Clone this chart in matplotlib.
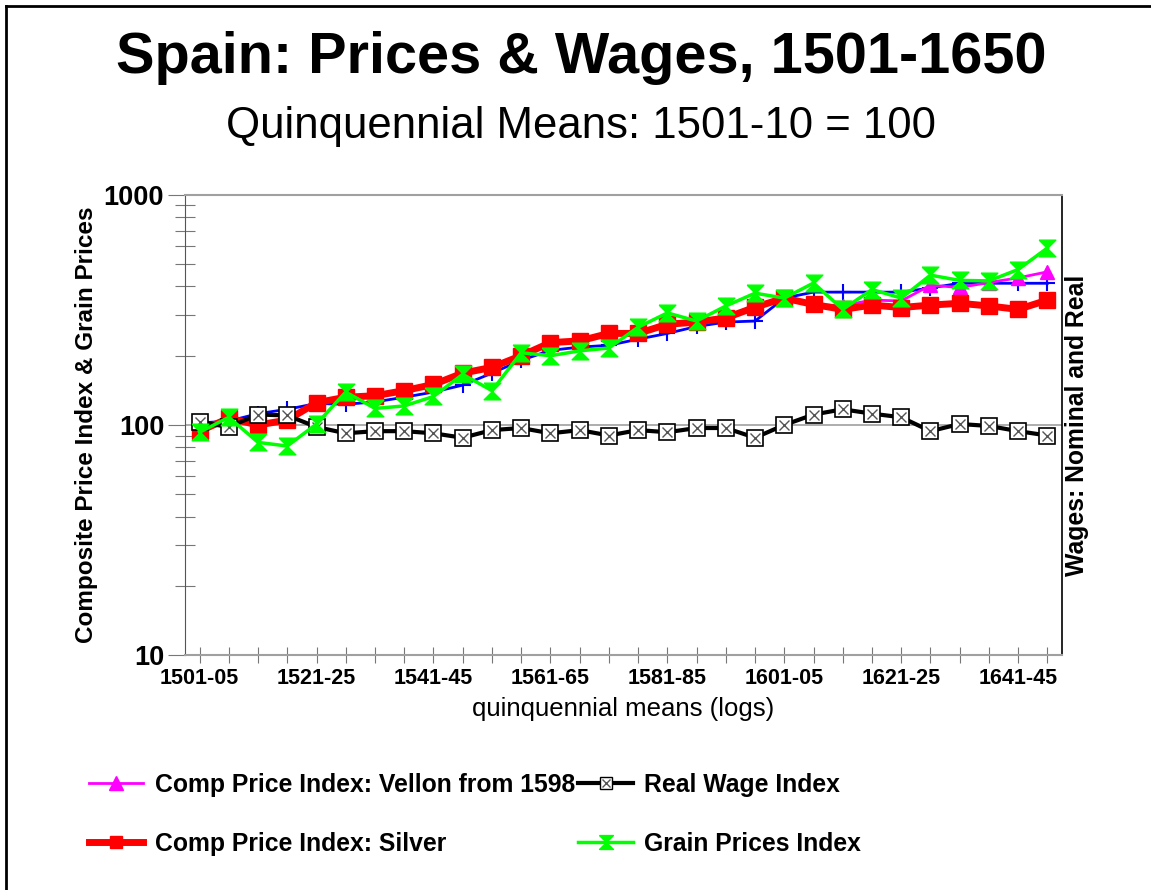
import numpy as np
import matplotlib.pyplot as plt
from matplotlib.lines import Line2D

plt.rcParams["font.family"] = ["Liberation Sans", "DejaVu Sans"]

# Quinquennia 1501-05 ... 1646-50
periodos = [f"{a}-{str(a + 4)[-2:]}" for a in range(1501, 1650, 5)]

# Índices (1501-10 = 100)
vellon = [94, 107, 100, 105, 125, 132, 134, 141, 150, 168,
          178, 200, 228, 232, 250, 250, 274, 280, 292, 325,
          356, 334, 330, 349, 346, 405, 396, 416, 436, 463]
prata = [94, 107, 100, 105, 125, 132, 134, 141, 150, 168,
         178, 200, 228, 232, 250, 250, 274, 280, 292, 325,
         356, 334, 318, 332, 324, 332, 338, 329, 318, 349]
salario_real = [103, 98, 111, 110, 98, 92, 94, 94, 92, 88,
                95, 97, 92, 95, 90, 95, 93, 97, 97, 88,
                100, 111, 117, 112, 108, 94, 101, 99, 94, 90]
graos = [93, 108, 84, 81, 101, 139, 118, 121, 133, 166,
         141, 206, 200, 210, 216, 266, 307, 283, 329, 374,
         356, 414, 318, 388, 356, 448, 425, 423, 474, 588]
salario_nominal = [102, 104, 112, 117, 124, 123, 126, 132, 139, 149,
                   168, 191, 211, 218, 222, 236, 250, 268, 280, 283,
                   356, 378, 378, 378, 378, 394, 413, 413, 413, 413]

x = np.arange(len(periodos))

fig = plt.figure(figsize=(11.51, 8.90), dpi=100)
ax = fig.add_axes([0.1607, 0.264, 0.762, 0.517])

# marcador "ampulheta" da série de grãos
ampulheta = [(-1, 1), (1, 1), (-1, -1), (1, -1), (-1, 1)]

ax.plot(x, salario_nominal, color="#0000ff", lw=2, marker="+", ms=11, mew=1.5, zorder=3)
ax.plot(x, vellon, color="#ff00ff", lw=2, marker="^", ms=10, zorder=4)
ax.plot(x, prata, color="#ff0000", lw=5, marker="s", ms=11, zorder=5)
ax.plot(x, salario_real, color="black", lw=3, marker="s", ms=11,
        mfc="white", mec="black", mew=1.2, zorder=6)
ax.plot(x, salario_real, ls="none", marker="x", ms=7, mec="#555555", mew=1, zorder=7)
ax.plot(x, graos, color="#00ff00", lw=2.5, marker=ampulheta, ms=12, zorder=8)

ax.set_yscale("log")
ax.set_ylim(10, 1000)
ax.set_xlim(-0.5, len(periodos) - 0.5)
ax.axhline(100, color="#a0a0a0", lw=1.2, zorder=1)

ax.set_xticks(x)
ax.set_xticklabels([p if i % 4 == 0 else "" for i, p in enumerate(periodos)],
                   fontsize=15.5, fontweight="bold")
ax.set_yticks([10, 100, 1000])
ax.set_yticklabels(["10", "100", "1000"], fontsize=19.5, fontweight="bold")
ax.tick_params(axis="x", direction="inout", length=12, width=0.8, color="#777777", pad=3)
ax.tick_params(axis="y", which="major", direction="out", length=12, width=0.8, color="#777777", pad=3)
ax.tick_params(axis="y", which="minor", direction="inout", length=14, width=0.8, color="#777777")

for lado in ["top", "bottom"]:
    ax.spines[lado].set_color("#a0a0a0")
    ax.spines[lado].set_linewidth(1.5)
ax.spines["left"].set_color("#555555")
ax.spines["right"].set_color("black")
ax.spines["right"].set_linewidth(1.2)

ax.set_xlabel("quinquennial means (logs)", fontsize=18.5, labelpad=6)
ax.set_ylabel("Composite Price Index & Grain Prices", fontsize=17.5, fontweight="bold", labelpad=4)
fig.text(0.936, 0.522, "Wages: Nominal and Real", rotation=90, fontsize=17.8,
         fontweight="bold", ha="center", va="center")

fig.text(0.505, 0.935, "Spain: Prices & Wages, 1501-1650", fontsize=41.5,
         fontweight="bold", ha="center", va="center")
fig.text(0.505, 0.858, "Quinquennial Means: 1501-10 = 100", fontsize=31.5,
         ha="center", va="center")

# legenda
h_vellon = Line2D([], [], color="#ff00ff", lw=2, marker="^", ms=10)
h_prata = Line2D([], [], color="#ff0000", lw=5, marker="s", ms=9)
h_real = (Line2D([], [], color="black", lw=3, marker="s", ms=9, mfc="white", mec="black"),
          Line2D([], [], ls="none", marker="x", ms=6, mec="#555555"))
h_graos = Line2D([], [], color="#00ff00", lw=2.5, marker=ampulheta, ms=10)
fig.legend([h_vellon, h_prata, h_real, h_graos],
           ["Comp Price Index: Vellon from 1598", "Comp Price Index: Silver",
            "Real Wage Index", "Grain Prices Index"],
           ncol=2, loc="upper left", bbox_to_anchor=(0.058, 0.157),
           frameon=False, prop={"weight": "bold", "size": 17.8},
           handlelength=2.2, columnspacing=0.15, labelspacing=1.42, handletextpad=0.45)

# moldura da figura (topo e esquerda)
fig.add_artist(Line2D([0.005, 1.0], [0.9935, 0.9935], color="black", lw=2, transform=fig.transFigure))
fig.add_artist(Line2D([0.005, 0.005], [0.0, 0.9935], color="black", lw=2, transform=fig.transFigure))

fig.savefig("out.png", dpi=100)
